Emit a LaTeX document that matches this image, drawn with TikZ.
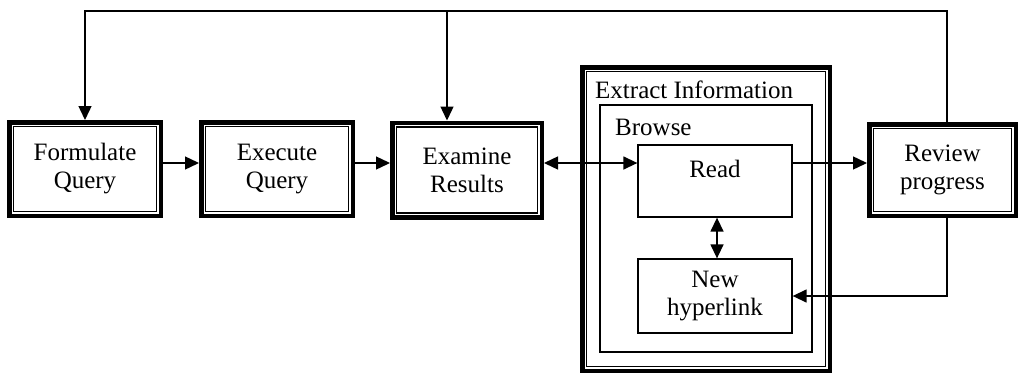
\documentclass[tikz,border=0pt]{standalone}
\usepackage{fontspec}
\setmainfont{Liberation Serif}
\usetikzlibrary{arrows.meta,calc}
\tikzset{
  conn/.style={line width=1.4pt, -{Triangle[length=14pt,width=13pt]}},
  biconn/.style={line width=1.4pt, {Triangle[length=14pt,width=13pt]}-{Triangle[length=14pt,width=13pt]}},
  plain/.style={line width=1.4pt},
  txt/.style={font=\fontsize{25}{28}\selectfont, align=center},
  bigbox/.style={draw, line width=4.5pt, inner sep=0pt, txt},
  thinbox/.style={draw, line width=1.3pt, inner sep=0pt, txt},
  innerline/.style={draw, line width=1.2pt},
}
\begin{document}
\begin{tikzpicture}[x=1pt,y=-1pt]
\useasboundingbox (0,0) rectangle (1020,375);
% helper coordinates
\coordinate (ay) at (0,163);
\coordinate (top) at (0,11);
\coordinate (rpx) at (947,0);
\coordinate (exx) at (447,0);
% main boxes
\node[bigbox, minimum width=151.5pt, minimum height=93.5pt] (fq) at (85,169) {Formulate\\Query};
\node[bigbox, minimum width=151.5pt, minimum height=93.5pt] (eq) at (277,169) {Execute\\Query};
\node[bigbox, minimum width=149.5pt, minimum height=94.5pt] (er) at (467,170) {Examine\\Results};
\node[bigbox, minimum width=146.5pt, minimum height=91.5pt] (rp) at (942.5,170) {Review\\progress};
% extract information container
\node[bigbox, minimum width=247.5pt, minimum height=303.5pt] (ex) at (706,219) {};
\node[thinbox, minimum width=212pt, minimum height=247pt] (br) at (706,228.5) {};
\node[txt, anchor=base west, inner sep=0pt] (exl) at (595,98) {Extract Information};
\node[txt, anchor=base west, inner sep=0pt] (brl) at (615,135) {Browse};
% inner boxes
\node[thinbox, minimum width=154pt, minimum height=72pt] (rd) at (715,181) {};
\node[txt, anchor=base, inner sep=0pt] (rdl) at (715,177) {Read};
\node[thinbox, minimum width=154pt, minimum height=74pt] (nh) at (715,296) {New\\hyperlink};
% inner thin lines of double borders
\foreach \n in {fq,eq,er,rp,ex}{
  \draw[innerline] ($(\n.north west)+(6.5,6.5)$) rectangle ($(\n.south east)+(-6.5,-6.5)$);
}
% connectors
\draw[conn] (fq.east |- ay) -- (eq.west |- ay);
\draw[conn] (eq.east |- ay) -- (er.west |- ay);
\draw[biconn] (er.east |- ay) -- (rd.west |- ay);
\draw[conn] (rd.east |- ay) -- (rp.west |- ay);
\draw[biconn] ([xshift=2pt]rd.south) -- ([xshift=2pt]nh.north);
\draw[conn] (rp.north -| rpx) |- (top -| fq.north) -- (fq.north);
\draw[conn] (top -| exx) -- (er.north -| exx);
\draw[conn] (rp.south -| rpx) |- (nh.east);
\end{tikzpicture}
\end{document}
